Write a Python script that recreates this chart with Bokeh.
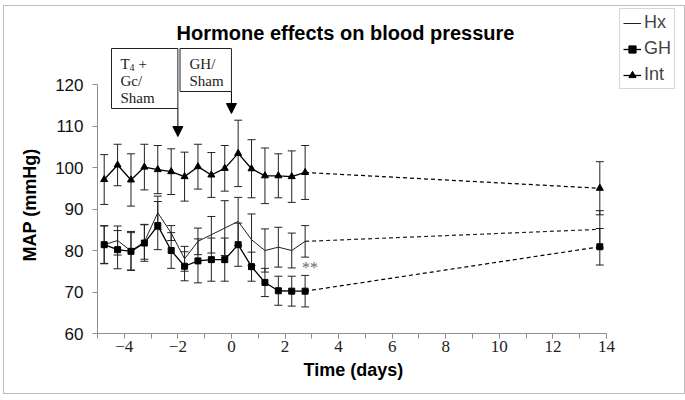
import math
from bokeh.plotting import figure
from bokeh.models import (Range1d, Whisker, ColumnDataSource, Legend, LegendItem,
                          Label, Arrow, NormalHead, TeeHead, FixedTicker, Title)
from bokeh.core.properties import value
from bokeh.embed import file_html
from bokeh.resources import INLINE

# ---------------- data ----------------
days = [-4.75, -4.25, -3.75, -3.25, -2.75, -2.25, -1.75, -1.25,
        -0.75, -0.25, 0.25, 0.75, 1.25, 1.75, 2.25, 2.75]
late_day = 13.75

hx_mean = [81.4, 82.4, 79.9, 82.1, 89.1, 84.2, 78.0, 82.2,
           83.8, 85.4, 87.0, 82.6, 80.0, 80.8, 80.0, 82.2]
hx_err = [4.5, 3.5, 4.7, 4.2, 4.0, 1.8, 3.0, 3.2,
          4.4, 6.6, 5.8, 6.2, 5.2, 4.8, 4.2, 3.8]
hx_late, hx_late_err = 85.1, 4.5

gh_mean = [81.4, 80.2, 79.8, 81.8, 86.0, 80.0, 76.2, 77.5,
           77.8, 77.8, 81.4, 76.1, 72.3, 70.3, 70.2, 70.2]
gh_err = [4.6, 4.6, 4.5, 4.4, 5.8, 4.3, 3.5, 5.3,
          5.2, 5.2, 5.2, 3.5, 3.4, 3.5, 3.6, 3.8]
gh_late, gh_late_err = 80.9, 4.4

int_mean = [97.1, 100.6, 97.0, 100.1, 99.5, 99.0, 97.8, 100.2,
            98.2, 99.8, 103.4, 99.7, 98.0, 98.0, 97.8, 98.8]
int_err = [6.0, 5.0, 6.3, 5.5, 5.8, 5.5, 5.9, 5.4,
           5.4, 5.5, 8.0, 7.0, 6.7, 5.3, 6.2, 6.5]
int_late, int_late_err = 95.0, 6.4

x_ticks = [-4, -2, 0, 2, 4, 6, 8, 10, 12, 14]
y_ticks = [60, 70, 80, 90, 100, 110, 120]

# ---------------- layout ----------------
PX_DAY = 26.79
PX_MM = 4.15
FL, FB = 90, 60
FW, FH = 587, 327
x0, y0 = -5, 60
x1 = x0 + FW / PX_DAY
y1 = y0 + FH / PX_MM

p = figure(width=FL + FW, height=FH + FB, frame_width=FW, frame_height=FH,
           x_range=Range1d(x0, x1), y_range=Range1d(y0, y1),
           output_backend="svg", toolbar_location=None,
           min_border_left=FL, min_border_right=0, min_border_top=0,
           min_border_bottom=FB)
p.styles = {"border": "1px solid #bdbdbd", "margin-left": "3px", "margin-top": "5px"}
p.outline_line_color = None
p.xgrid.visible = False
p.ygrid.visible = False
p.background_fill_color = "white"
p.border_fill_color = "white"

AX = "#8f8f8f"
xa = p.xaxis[0]
xa.ticker = FixedTicker(ticks=x_ticks, minor_ticks=list(range(-5, 15)))
xa.bounds = (-5, 14)
xa.axis_line_color = AX
xa.major_tick_line_color = AX
xa.minor_tick_line_color = AX
xa.major_tick_out = 5
xa.major_tick_in = 0
xa.minor_tick_out = 5
xa.minor_tick_in = 0
xa.major_label_text_font = "Liberation Serif"
xa.major_label_text_font_size = "17px"
xa.major_label_text_color = "#222222"
xa.major_label_standoff = 2

ya = p.yaxis[0]
ya.ticker = FixedTicker(ticks=y_ticks)
ya.bounds = (60, 120)
ya.axis_line_color = AX
ya.major_tick_line_color = AX
ya.minor_tick_line_color = None
ya.major_tick_out = 5
ya.major_tick_in = 0
ya.major_label_text_font = "Liberation Sans"
ya.major_label_text_font_size = "17px"
ya.major_label_text_color = "#111111"
ya.major_label_standoff = 9

# axis titles placed in the side panels
p.add_layout(Title(text="Time (days)", align="left", offset=206,
                   text_font="Liberation Sans", text_font_style="bold",
                   text_font_size="18px", text_color="black", standoff=6), "below")
p.add_layout(Title(text="MAP (mmHg)", align="left", offset=72,
                   text_font="Liberation Sans", text_font_style="bold",
                   text_font_size="18px", text_color="black", standoff=26), "left")

# ---------------- series ----------------
def whiskers(xs, means, errs):
    src = ColumnDataSource(dict(x=xs, upper=[m + e for m, e in zip(means, errs)],
                                lower=[m - e for m, e in zip(means, errs)]))
    w = Whisker(base="x", upper="upper", lower="lower", source=src,
                line_color="#222222", line_width=1,
                upper_head=TeeHead(size=8, line_color="#222222", line_width=1),
                lower_head=TeeHead(size=8, line_color="#222222", line_width=1))
    p.add_layout(w)

all_days = days + [late_day]
whiskers(all_days, hx_mean + [hx_late], hx_err + [hx_late_err])
whiskers(all_days, gh_mean + [gh_late], gh_err + [gh_late_err])
whiskers(all_days, int_mean + [int_late], int_err + [int_late_err])

DASH = "4 3"
# Hx
hx_line = p.line(days, hx_mean, line_color="#222222", line_width=1)
p.line([days[-1], late_day], [hx_mean[-1], hx_late], line_color="#222222",
       line_width=1.2, line_dash=DASH)
# GH
gh_line = p.line(days, gh_mean, line_color="black", line_width=1.3)
p.line([days[-1], late_day], [gh_mean[-1], gh_late], line_color="black",
       line_width=1.2, line_dash=DASH)
gh_pts = p.scatter(all_days, gh_mean + [gh_late], marker="square", size=6,
                   color="black")
# Int
int_line = p.line(days, int_mean, line_color="black", line_width=1.3)
p.line([days[-1], late_day], [int_mean[-1], int_late], line_color="black",
       line_width=1.2, line_dash=DASH)
int_pts = p.scatter(all_days, int_mean + [int_late], marker="triangle", size=7,
                    color="black")

# significance marker
p.add_layout(Label(x=days[-1], y=gh_mean[-1] + gh_err[-1], x_offset=5, y_offset=8,
                   text="**", text_align="center", text_baseline="alphabetic",
                   text_font="Liberation Serif", text_font_size="16px",
                   text_color="#6a6a6a"))

# ---------------- treatment boxes and arrows ----------------
def px_x(px):
    return x0 + (px - 94) / PX_DAY

def px_y(py):
    return y0 + (333 - py) / PX_MM

box_top = px_y(48)
p.quad(left=[px_x(108), px_x(176.5)], right=[-2, 0],
       top=[box_top, box_top], bottom=[px_y(108), px_y(91)],
       fill_color="white", line_color="#222222", line_width=1)

SERIF = "Liberation Serif"
def box_text(px, py, txt, size="15px"):
    p.add_layout(Label(x=px_x(px), y=px_y(py), text=txt, text_font=SERIF,
                       text_font_size=size, text_baseline="middle",
                       text_color="#222222"))

box_text(117, 63, "T")
box_text(126, 67, "4", "10px")
box_text(135, 63, "+")
box_text(117, 80, "Gc/")
box_text(117, 97, "Sham")
box_text(186, 63, "GH/")
box_text(186, 80, "Sham")

p.add_layout(Arrow(end=NormalHead(size=10, fill_color="black", line_color="black"),
                   x_start=-2, y_start=px_y(108), x_end=-2, y_end=px_y(136),
                   line_color="black", line_width=1))
p.add_layout(Arrow(end=NormalHead(size=10, fill_color="black", line_color="black"),
                   x_start=0, y_start=px_y(91), x_end=0, y_end=px_y(113),
                   line_color="black", line_width=1))

# ---------------- chart title ----------------
p.add_layout(Label(x=px_x(342), y=px_y(32), text="Hormone effects on blood pressure",
                   text_align="center", text_baseline="middle",
                   text_font="Liberation Sans", text_font_style="bold",
                   text_font_size="20px", text_color="black"))

# ---------------- legend ----------------
legend = Legend(items=[LegendItem(label="Hx", renderers=[hx_line]),
                       LegendItem(label="GH", renderers=[gh_line, gh_pts]),
                       LegendItem(label="Int", renderers=[int_line, int_pts])],
                location=(522, 244))
legend.border_line_color = "#b0b0b0"
legend.border_line_width = 1
legend.background_fill_color = "white"
legend.background_fill_alpha = 1
legend.label_text_font = "Liberation Sans"
legend.label_text_font_size = "18px"
legend.glyph_width = 18
legend.glyph_height = 20
legend.label_height = 20
legend.label_standoff = 3
legend.padding = 3
legend.spacing = 5
legend.margin = 0
p.add_layout(legend)

open("out.html", "w").write(file_html(p, INLINE))
